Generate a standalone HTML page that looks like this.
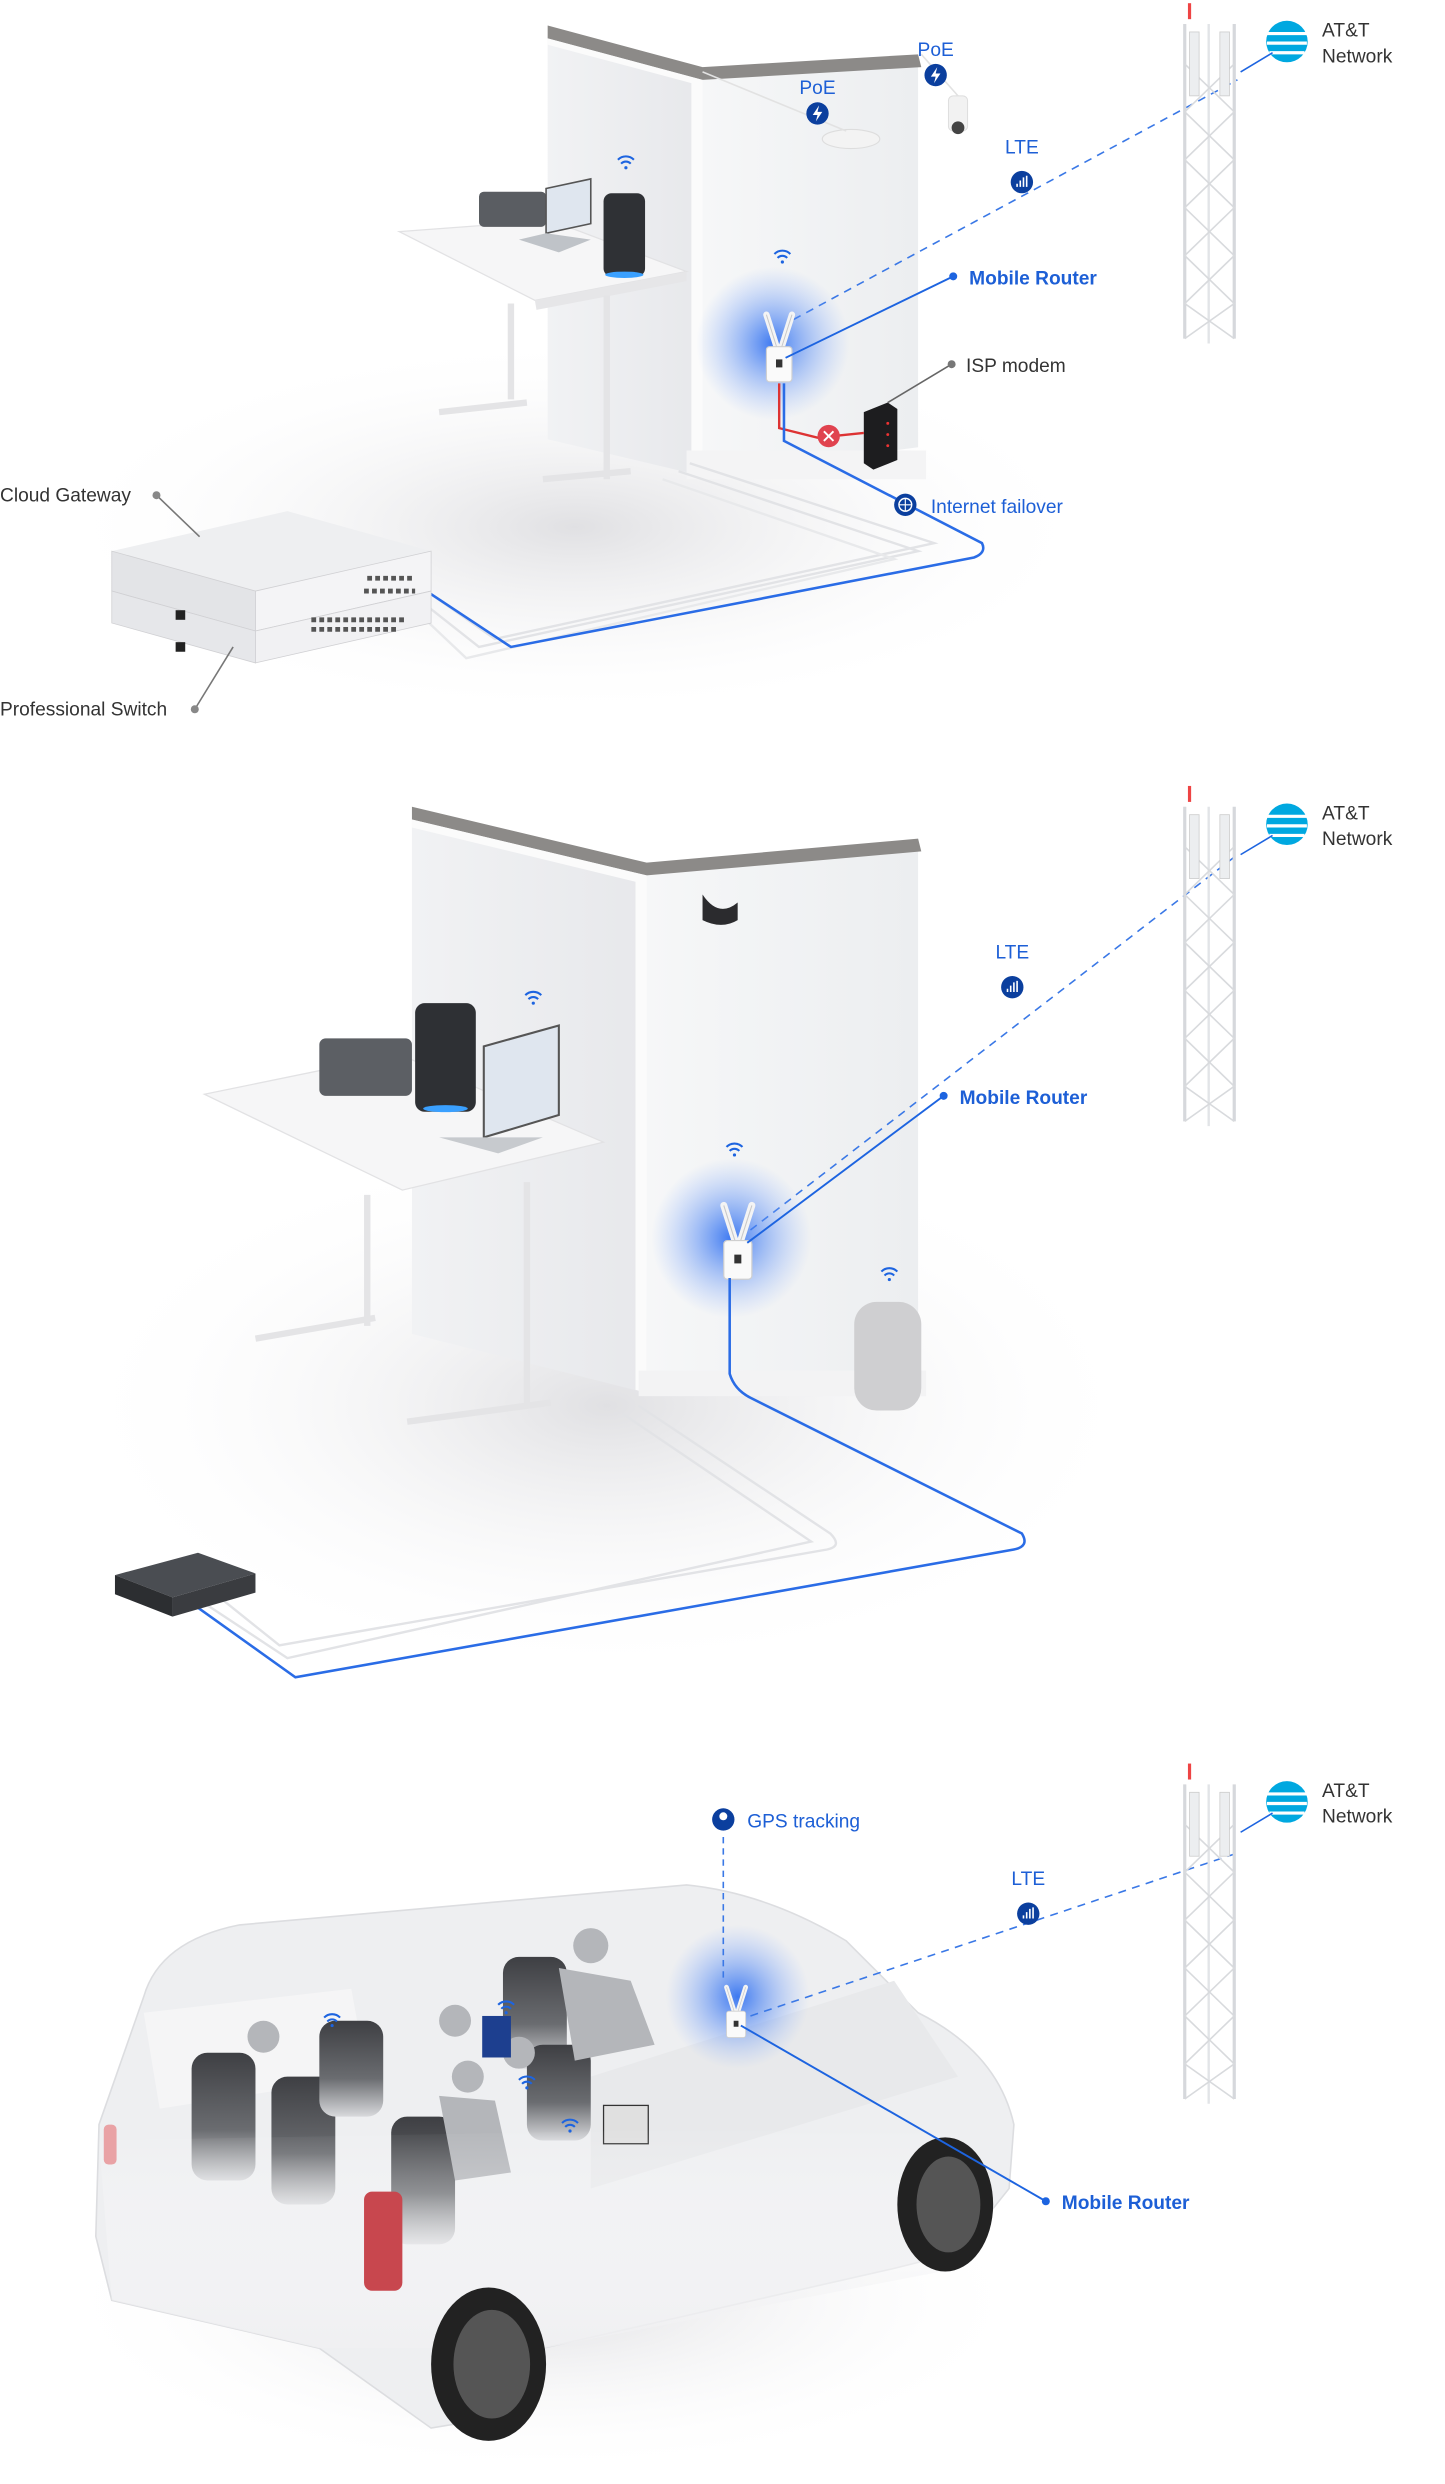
<!DOCTYPE html>
<html><head><meta charset="utf-8"><style>
html,body{margin:0;padding:0;background:#fff;}
svg{display:block;}
text{font-family:"Liberation Sans",sans-serif;}
</style></head><body>
<svg width="1445" height="2484" viewBox="0 0 905 1555" preserveAspectRatio="none" xmlns="http://www.w3.org/2000/svg">
<defs>
<radialGradient id="glow"><stop offset="0" stop-color="#2a6cf0" stop-opacity="0.9"/><stop offset="0.5" stop-color="#5a8ef5" stop-opacity="0.45"/><stop offset="1" stop-color="#8ab0ff" stop-opacity="0"/></radialGradient>
<radialGradient id="shadow"><stop offset="0" stop-color="#d3d3d7" stop-opacity="0.7"/><stop offset="1" stop-color="#fff" stop-opacity="0"/></radialGradient>
<linearGradient id="wallL" x1="0" x2="1"><stop offset="0" stop-color="#f1f2f4"/><stop offset="1" stop-color="#e7e8eb"/></linearGradient>
<linearGradient id="wallR" x1="0" x2="1"><stop offset="0" stop-color="#f6f7f8"/><stop offset="1" stop-color="#eceef0"/></linearGradient>
<linearGradient id="seat" x1="0" y1="0" x2="0" y2="1"><stop offset="0" stop-color="#3e3f43"/><stop offset="0.6" stop-color="#6a6c70"/><stop offset="1" stop-color="#d8d9dc"/></linearGradient>
<linearGradient id="vanfade" x1="0" y1="0" x2="0" y2="1"><stop offset="0" stop-color="#fff" stop-opacity="0"/><stop offset="1" stop-color="#f0f0f2" stop-opacity="0.85"/></linearGradient>
<g id="tower">
<line x1="745" y1="2" x2="745" y2="12" stroke="#e44" stroke-width="2"/>
<line x1="742" y1="15" x2="742" y2="212" stroke="#d6d8dc" stroke-width="2"/>
<line x1="773" y1="15" x2="773" y2="212" stroke="#d6d8dc" stroke-width="2"/>
<line x1="757" y1="15" x2="757" y2="215" stroke="#e2e4e7" stroke-width="1.5"/>
<path d="M742 40 L773 70 L742 100 L773 130 L742 160 L773 190 L742 212 M773 40 L742 70 L773 100 L742 130 L773 160 L742 190 L773 212" stroke="#d8dadd" stroke-width="1" fill="none"/>
<rect x="745" y="20" width="6" height="40" fill="#eceef0" stroke="#ccc" stroke-width=".5"/>
<rect x="764" y="20" width="6" height="40" fill="#eceef0" stroke="#ccc" stroke-width=".5"/>
</g>
<g id="att">
<circle cx="806" cy="26" r="13" fill="#00a8e0"/>
<path d="M793 21 H819 M793.5 27 H818.5 M795 33 H817" stroke="#fff" stroke-width="2"/>
<line x1="777" y1="45" x2="797" y2="33" stroke="#1d64e0" stroke-width="1"/>
<text x="828" y="23" font-size="12" fill="#333">AT&amp;T</text>
<text x="828" y="39" font-size="12" fill="#333">Network</text>
</g>
<g id="wifi"><path d="M-5 -1 A7 7 0 0 1 5 -1 M-3 1.5 A4 4 0 0 1 3 1.5" stroke="#1d64e0" stroke-width="1.3" fill="none"/><circle cx="0" cy="4" r="1" fill="#1d64e0"/></g>
<g id="lteicon"><circle r="7" fill="#0b3f9e"/><path d="M-3 3V1 M-1 3V-1 M1 3V-3 M3 3V-4" stroke="#fff" stroke-width="1"/></g>
<g id="router">
<path d="M-8 -28 L-1 -6 M8 -28 L1 -6" stroke="#f4f4f4" stroke-width="4" stroke-linecap="round"/>
<path d="M-8 -28 L-1 -6 M8 -28 L1 -6" stroke="#c8c8c8" stroke-width="0.6" fill="none"/>
<rect x="-8" y="-8" width="16" height="22" rx="2" fill="#fafafa" stroke="#cfcfcf" stroke-width=".7"/>
<rect x="-2" y="0" width="4" height="5" fill="#333"/>
</g>
</defs>
<rect width="905" height="1555" fill="#fff"/>

<!-- ================= SECTION 1 ================= -->
<ellipse cx="360" cy="330" rx="330" ry="120" fill="url(#shadow)"/>
<polygon points="343,22 440,48 440,298 343,275" fill="url(#wallL)"/>
<polygon points="440,48 575,40 575,280 440,298" fill="url(#wallR)"/>
<polygon points="343,16 440,42 575,34 577,42 440,50 343,24" fill="#8c8a88"/>
<polygon points="343,24 440,50 440,298 433,296 433,52 343,28" fill="#fbfbfb"/>
<rect x="430" y="282" width="150" height="18" fill="#f4f4f5"/>
<polygon points="250,145 345,138 430,170 335,188" fill="#f6f6f7" stroke="#e2e2e4" stroke-width=".8"/>
<polygon points="335,188 430,170 430,176 336,194" fill="#e6e6e8"/>
<path d="M320 190 V250 M380 185 V300 M275 258 L330 252 M340 300 L395 295" stroke="#e4e4e6" stroke-width="4"/>
<rect x="300" y="120" width="42" height="22" rx="3" fill="#5a5d62"/>
<polygon points="342,118 370,112 370,140 342,146" fill="#dfe6ef" stroke="#555" stroke-width="1"/>
<polygon points="325,150 342,146 370,150 350,158" fill="#bfc3c8"/>
<rect x="378" y="121" width="26" height="52" rx="5" fill="#2f3135"/>
<ellipse cx="391" cy="172" rx="12" ry="2" fill="#3aa0ff"/>
<use href="#wifi" x="392" y="101"/>
<use href="#wifi" x="490" y="160"/>
<ellipse cx="533" cy="87" rx="18" ry="6" fill="#f3f3f3" stroke="#ddd" stroke-width=".7"/>
<rect x="594" y="60" width="12" height="22" rx="3" fill="#f2f2f2" stroke="#ddd" stroke-width=".6"/>
<circle cx="600" cy="80" r="4" fill="#444"/>
<path d="M440 45 L530 82 M577 34 L600 60" stroke="#e2e2e2" stroke-width="1" fill="none"/>
<text x="512" y="59" font-size="12" fill="#1d5fd6" text-anchor="middle">PoE</text>
<circle cx="512" cy="71" r="7" fill="#0b3f9e"/><path d="M513 66 L509 72 H512 L511 76 L515 70 H512 Z" fill="#fff"/>
<text x="586" y="35" font-size="12" fill="#1d5fd6" text-anchor="middle">PoE</text>
<circle cx="586" cy="47" r="7" fill="#0b3f9e"/><path d="M587 42 L583 48 H586 L585 52 L589 46 H586 Z" fill="#fff"/>
<line x1="497" y1="200" x2="775" y2="50" stroke="#3a78e6" stroke-width="1" stroke-dasharray="5,4"/>
<text x="640" y="96" font-size="12" fill="#1d5fd6" text-anchor="middle">LTE</text>
<use href="#lteicon" x="640" y="114"/>
<use href="#tower"/>
<use href="#att"/>
<circle cx="484" cy="215" r="48" fill="url(#glow)"/>
<use href="#router" x="488" y="225"/>
<line x1="492" y1="224" x2="597" y2="173" stroke="#1d64e0" stroke-width="1.2"/>
<circle cx="597" cy="173" r="2.5" fill="#1d64e0"/>
<text x="607" y="178" font-size="12" fill="#1d5fd6" font-weight="bold">Mobile Router</text>
<polygon points="541,258 556,252 562,256 562,288 547,294 541,290" fill="#1d1d1f"/>
<circle cx="556" cy="265" r=".9" fill="#e33"/><circle cx="556" cy="272" r=".9" fill="#e33"/><circle cx="556" cy="279" r=".9" fill="#e33"/>
<line x1="556" y1="252" x2="596" y2="228" stroke="#666" stroke-width="1"/>
<circle cx="596" cy="228" r="2.5" fill="#777"/>
<text x="605" y="233" font-size="12" fill="#333">ISP modem</text>
<path d="M488 240 V268 L512 274 L541 271" stroke="#d33" stroke-width="1.5" fill="none"/>
<circle cx="519" cy="273" r="7" fill="#e0434f"/><path d="M516 270 L522 276 M522 270 L516 276" stroke="#fff" stroke-width="1.2"/>
<path d="M432 290 L585 340 L310 400 L270 372" stroke="#e2e3e6" stroke-width="1.5" fill="none"/>
<path d="M425 295 L575 345 L300 405 L262 375" stroke="#e2e3e6" stroke-width="1.5" fill="none"/>
<path d="M415 300 L560 350 L292 412 L256 378" stroke="#e8e9eb" stroke-width="1.5" fill="none"/>
<path d="M491 240 V276 L615 340 Q618 346 610 349 L320 405 L264 368" stroke="#2a6ce6" stroke-width="1.6" fill="none"/>
<circle cx="567" cy="316" r="7" fill="#0b3f9e"/><circle cx="567" cy="316" r="4" fill="none" stroke="#fff" stroke-width=".9"/><path d="M563 316 H571 M567 312 V320" stroke="#fff" stroke-width=".7"/>
<text x="583" y="321" font-size="12" fill="#1d5fd6">Internet failover</text>
<polygon points="70,345 180,320 270,345 160,370" fill="#eeeff1"/>
<polygon points="70,345 160,370 160,395 70,370" fill="#e3e4e7" stroke="#d0d0d3" stroke-width=".5"/>
<polygon points="160,370 270,345 270,370 160,395" fill="#f4f4f6" stroke="#d0d0d3" stroke-width=".5"/>
<polygon points="70,370 160,395 160,415 70,390" fill="#e6e7ea" stroke="#d0d0d3" stroke-width=".5"/>
<polygon points="160,395 270,370 270,390 160,415" fill="#f1f1f3" stroke="#d0d0d3" stroke-width=".5"/>
<rect x="110" y="382" width="6" height="6" fill="#222"/><rect x="110" y="402" width="6" height="6" fill="#222"/>
<path d="M230 362 h30 M228 370 h32 M195 388 h60 M195 394 h55" stroke="#555" stroke-width="3" stroke-dasharray="3,2"/>
<line x1="98" y1="310" x2="125" y2="336" stroke="#777" stroke-width="1"/>
<circle cx="98" cy="310" r="2.5" fill="#888"/>
<text x="0" y="314" font-size="12" fill="#333">Cloud Gateway</text>
<line x1="122" y1="444" x2="146" y2="405" stroke="#777" stroke-width="1"/>
<circle cx="122" cy="444" r="2.5" fill="#888"/>
<text x="0" y="448" font-size="12" fill="#333">Professional Switch</text>

<!-- ================= SECTION 2 ================= -->
<ellipse cx="380" cy="880" rx="340" ry="170" fill="url(#shadow)"/>
<polygon points="258,510 405,545 405,872 258,835" fill="url(#wallL)"/>
<polygon points="405,545 575,530 575,855 405,872" fill="url(#wallR)"/>
<polygon points="258,505 405,540 575,525 577,533 405,548 258,513" fill="#8c8a88"/>
<polygon points="258,513 405,548 405,872 398,870 398,552 258,518" fill="#fbfbfb"/>
<rect x="400" y="858" width="180" height="16" fill="#f3f3f4"/>
<path d="M440 560 Q450 575 462 565 L462 576 Q452 582 440 576 Z" fill="#2b2b2e"/>
<polygon points="128,685 250,660 378,715 252,745" fill="#f6f6f7" stroke="#e2e2e4" stroke-width=".8"/>
<path d="M230 748 V830 M330 740 V880 M160 838 L235 825 M255 890 L345 878" stroke="#e4e4e6" stroke-width="4"/>
<rect x="200" y="650" width="58" height="36" rx="4" fill="#5c5f64"/>
<rect x="260" y="628" width="38" height="68" rx="6" fill="#2e3034"/>
<ellipse cx="279" cy="694" rx="14" ry="2.2" fill="#3aa0ff"/>
<polygon points="303,655 350,642 350,698 303,712" fill="#dfe6ef" stroke="#555" stroke-width="1.3"/>
<polygon points="275,712 303,712 340,712 312,722" fill="#c7cace"/>
<use href="#wifi" x="334" y="624"/>
<use href="#wifi" x="460" y="719"/>
<use href="#wifi" x="557" y="797"/>
<rect x="535" y="815" width="42" height="68" rx="14" fill="#cfcfd1"/>
<line x1="470" y1="770" x2="775" y2="535" stroke="#3a78e6" stroke-width="1" stroke-dasharray="5,4"/>
<text x="634" y="600" font-size="12" fill="#1d5fd6" text-anchor="middle">LTE</text>
<use href="#lteicon" x="634" y="618"/>
<use href="#tower" y="490"/>
<use href="#att" y="490"/>
<circle cx="458" cy="775" r="50" fill="url(#glow)"/>
<use href="#router" x="461" y="784" transform="translate(-45 -77) scale(1.1)"/>
<line x1="468" y1="778" x2="591" y2="686" stroke="#1d64e0" stroke-width="1.2"/>
<circle cx="591" cy="686" r="2.5" fill="#1d64e0"/>
<text x="601" y="691" font-size="12" fill="#1d5fd6" font-weight="bold">Mobile Router</text>
<path d="M400 880 L520 960 Q528 968 518 970 L175 1030 L140 1002" stroke="#e2e3e6" stroke-width="1.5" fill="none"/>
<path d="M390 885 L508 965 L180 1038 L130 1005" stroke="#e2e3e6" stroke-width="1.5" fill="none"/>
<path d="M457 800 V860 Q460 870 470 875 L640 960 Q645 968 635 970 L185 1050 L115 1000" stroke="#2a6ce6" stroke-width="1.6" fill="none"/>
<polygon points="72,986 124,972 160,985 108,1000" fill="#4a4d52"/>
<polygon points="72,986 108,1000 108,1012 72,998" fill="#2c2e31"/>
<polygon points="108,1000 160,985 160,997 108,1012" fill="#3a3c40"/>

<!-- ================= SECTION 3 ================= -->
<ellipse cx="340" cy="1440" rx="310" ry="110" fill="url(#shadow)"/>
<path d="M90 1250 Q100 1215 150 1205 L430 1180 Q480 1185 530 1215 L575 1260 Q625 1285 635 1330 L632 1370 L600 1410 L560 1420 L340 1470 L330 1510 L270 1520 L200 1470 L70 1440 L60 1400 L62 1330 Z" fill="#eeeff1" stroke="#dcdde0" stroke-width="1"/>
<path d="M90 1260 L220 1245 L230 1300 L100 1320 Z" fill="#f5f5f6"/>
<path d="M370 1300 L560 1240 L600 1300 L370 1370 Z" fill="#e8e9eb"/>
<g fill="url(#seat)">
<rect x="120" y="1285" width="40" height="80" rx="10"/>
<rect x="170" y="1300" width="40" height="80" rx="10"/>
<rect x="200" y="1265" width="40" height="60" rx="10"/>
<rect x="245" y="1325" width="40" height="80" rx="10"/>
<rect x="315" y="1225" width="40" height="70" rx="10"/>
<rect x="330" y="1280" width="40" height="60" rx="10"/>
</g>
<g fill="#b4b6ba">
<circle cx="165" cy="1275" r="10"/><circle cx="285" cy="1265" r="10"/><circle cx="370" cy="1218" r="11"/><circle cx="293" cy="1300" r="10"/><circle cx="325" cy="1285" r="10"/>
<path d="M350 1232 L395 1240 L410 1280 L360 1290 Z"/>
<path d="M275 1312 L310 1315 L320 1360 L285 1365 Z"/>
</g>
<rect x="302" y="1262" width="18" height="26" fill="#1d3f8f"/>
<rect x="378" y="1318" width="28" height="24" fill="#e0e0e0" stroke="#333" stroke-width=".8"/>
<path d="M62 1340 L600 1330 L600 1420 L340 1470 L200 1470 L70 1440 Z" fill="url(#vanfade)"/>
<use href="#wifi" x="208" y="1264"/>
<use href="#wifi" x="317" y="1256"/>
<use href="#wifi" x="330" y="1303"/>
<use href="#wifi" x="357" y="1330"/>
<rect x="228" y="1372" width="24" height="62" rx="5" fill="#c8474e"/>
<rect x="65" y="1330" width="8" height="25" rx="3" fill="#e9a2a5"/>
<ellipse cx="306" cy="1480" rx="36" ry="48" fill="#222"/>
<ellipse cx="308" cy="1480" rx="24" ry="34" fill="#555"/>
<ellipse cx="592" cy="1380" rx="30" ry="42" fill="#222"/>
<ellipse cx="594" cy="1380" rx="20" ry="30" fill="#555"/>
<circle cx="462" cy="1250" r="45" fill="url(#glow)"/>
<use href="#router" transform="translate(461 1265) scale(0.75)"/>
<line x1="453" y1="1150" x2="453" y2="1240" stroke="#3a78e6" stroke-width="1" stroke-dasharray="4,3"/>
<circle cx="453" cy="1139" r="7" fill="#0b3f9e"/><circle cx="453" cy="1137" r="2.5" fill="#fff"/>
<text x="468" y="1144" font-size="12" fill="#1d5fd6">GPS tracking</text>
<line x1="470" y1="1262" x2="775" y2="1160" stroke="#3a78e6" stroke-width="1" stroke-dasharray="5,4"/>
<text x="644" y="1180" font-size="12" fill="#1d5fd6" text-anchor="middle">LTE</text>
<use href="#lteicon" x="644" y="1198"/>
<use href="#tower" y="1102"/>
<use href="#att" y="1102"/>
<line x1="464" y1="1268" x2="655" y2="1378" stroke="#1d64e0" stroke-width="1.2"/>
<circle cx="655" cy="1378" r="2.5" fill="#1d64e0"/>
<text x="665" y="1383" font-size="12" fill="#1d5fd6" font-weight="bold">Mobile Router</text>
</svg>
</body></html>
